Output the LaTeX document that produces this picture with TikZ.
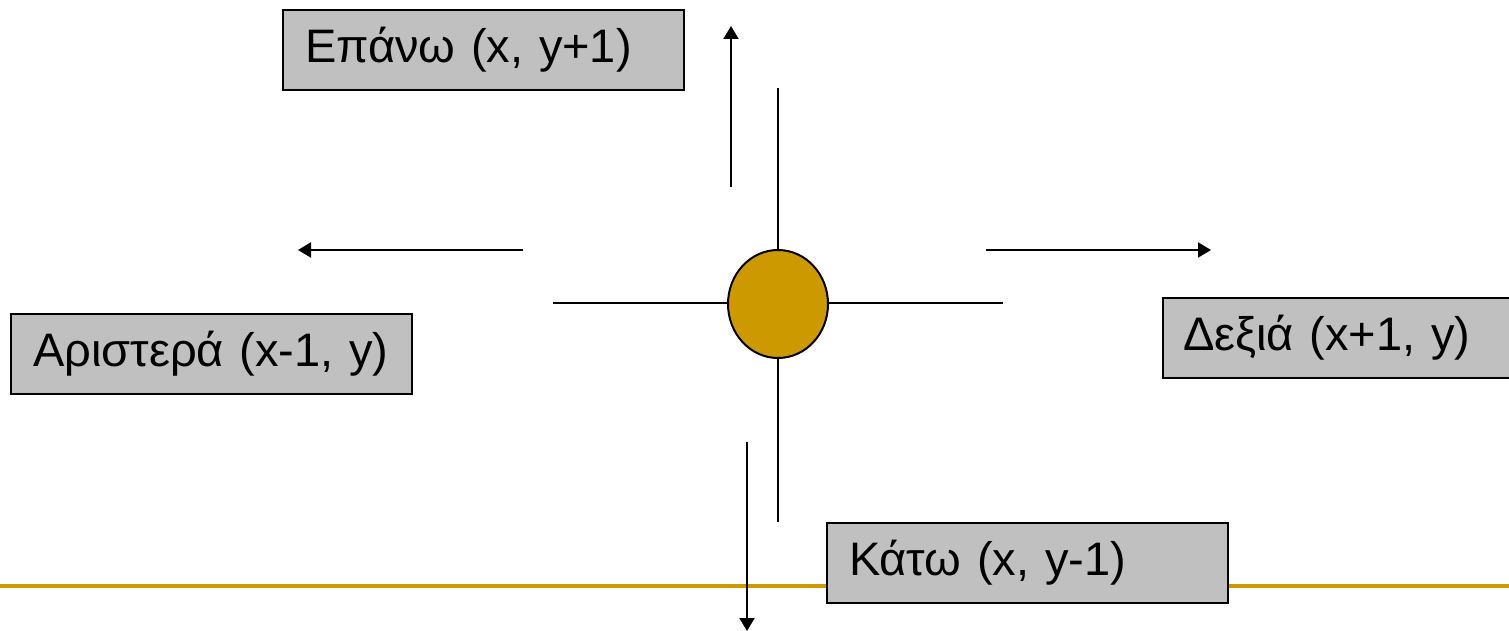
\documentclass[tikz,border=0pt]{standalone}
\usepackage{fontspec}
\setmainfont{Liberation Sans}
\usetikzlibrary{arrows.meta,shapes.geometric}
\definecolor{boxgray}{HTML}{C0C0C0}
\definecolor{gold}{HTML}{CC9900}
\tikzset{
  lbl/.style={draw=black, line width=2pt, fill=boxgray, anchor=north west,
    inner xsep=22pt, inner ysep=0pt, minimum height=80pt, align=left,
    font=\fontsize{47}{56}\selectfont},
  axis/.style={line width=2pt, draw=black},
  arr/.style={line width=2pt, draw=black, -{Triangle[length=13pt,width=15pt]}},
  dot/.style={ellipse, draw=black, line width=2pt, fill=gold, minimum width=100pt, minimum height=108pt, inner sep=0pt},
  baseline/.style={draw=gold, line width=4pt}
}
\begin{document}
\begin{tikzpicture}[x=1pt,y=-1pt]
\useasboundingbox (0,0) rectangle (1509,631);
% decorative baseline
\coordinate (bl) at (0,586);
\coordinate (br) at (1509,586);
\draw[baseline] (bl) -- (br);
% axes through centre
\coordinate (vt) at (778,88);
\coordinate (vb) at (778,522);
\coordinate (hl) at (553,303);
\coordinate (hr) at (1003,303);
\draw[axis] (vt) -- (vb);
\draw[axis] (hl) -- (hr);
\node[dot] (c) at (778,304) {};
% arrows
\coordinate (ua) at (731,187);
\coordinate (ub) at (731,26);
\draw[arr] (ua) -- (ub);
\coordinate (la) at (523,250);
\coordinate (lb) at (298,250);
\draw[arr] (la) -- (lb);
\coordinate (ra) at (986,250);
\coordinate (rb) at (1211,250);
\draw[arr] (ra) -- (rb);
\coordinate (da) at (747,442);
\coordinate (db) at (747,631);
\draw[arr] (da) -- (db);
% labels
\node[lbl, text width=357pt] (up) at (282,9) {Επάνω (x, y+1)};
\node[lbl, text width=357pt] (left) at (10,313) {Αριστερά (x-1, y)};
\node[lbl, text width=307pt, inner xsep=20pt] (right) at (1162,297) {Δεξιά (x+1, y)};
\node[lbl, text width=357pt] (down) at (826,522) {Κάτω (x, y-1)};
\end{tikzpicture}
\end{document}
